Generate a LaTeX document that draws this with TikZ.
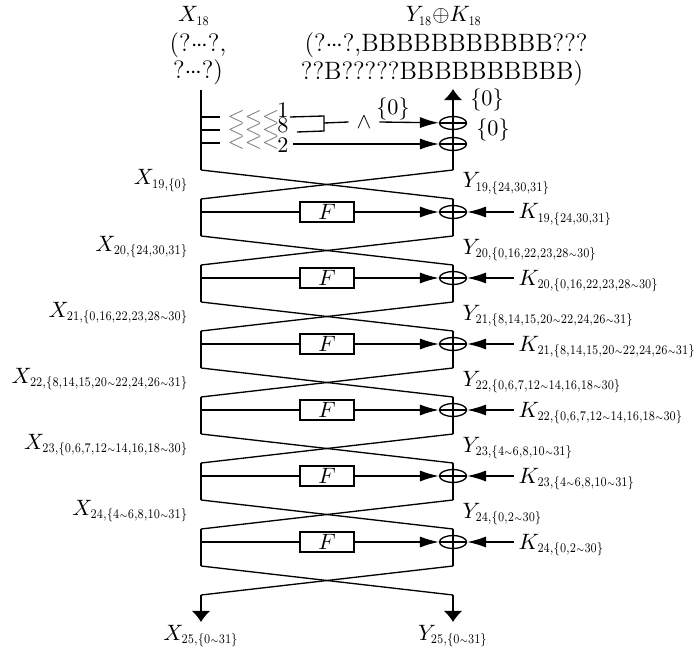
\documentclass[tikz,border=0pt]{standalone}
\usepackage{amsmath,amssymb,graphicx}
\usetikzlibrary{arrows.meta,shapes.geometric}
% narrow subscripts for the state labels
\newcommand\lsub[1]{_{\scalebox{0.7}[0.85]{$\scriptstyle #1$}}}
% small tilde used for bit ranges inside subscripts
\newcommand\rg{\mathord{\scriptscriptstyle\sim}}
% tight ellipsis
\newcommand\tdots{{\cdot}\kern-0.7pt{\cdot}\kern-0.7pt{\cdot}}
\begin{document}
\begin{tikzpicture}[x=0.45pt,y=-0.45pt,line width=0.6pt,
  tiph/.style={-{Latex[length=8.5pt,width=5pt]}},
  tipv/.style={-{Latex[length=5pt,width=8.5pt]}},
  fbox/.style={draw,minimum width=24.3pt,minimum height=9pt,inner sep=0pt},
  xorell/.style={draw,ellipse,minimum width=12.2pt,minimum height=5.8pt,inner sep=0pt},
  xlab/.style={anchor=base east,inner sep=0pt},
  ylab/.style={anchor=base west,inner sep=0pt},
  klab/.style={anchor=base west,inner sep=0pt},
  txt/.style={anchor=base,inner sep=0pt},
  bigtxt/.style={anchor=base,inner sep=0pt,font=\fontsize{11.3}{13}\selectfont},
  rotlab/.style={anchor=west,inner sep=0pt,text=black!55},
  digit/.style={inner sep=0pt},
  setlab/.style={inner sep=0pt,font=\fontsize{9.6}{11}\selectfont},
]
\useasboundingbox (0,0) rectangle (699,652);

% ---- input of the trail --------------------------------------------------
\node[txt] (x18)  at (194,22) {$X\lsub{18}$};
\node[bigtxt] (x18a) at (198,52) {(?$\tdots$?,};
\node[bigtxt] (x18b) at (198,79) {?$\tdots$?)};
\node[txt] (y18)  at (444,22) {$Y\lsub{18}{\oplus}K\lsub{18}$};
\node[bigtxt] (y18a) at (446,52) {(?$\tdots$?,BBBBBBBBBBB???};
\node[bigtxt] (y18b) at (442,80) {??B?????BBBBBBBBBB)};

% ---- skeleton points of the Feistel rounds --------------------------------
\foreach \i in {0,...,6}{
  \coordinate (lt\i) at (201,170+66*\i);
  \coordinate (rt\i) at (453,170+66*\i);
  \coordinate (lm\i) at (201,199+66*\i);
  \coordinate (rm\i) at (453,199+66*\i);
}

% ---- last step of round 18: rotations, AND and the two XORs -----------------
\coordinate (ltop) at (201,90);
\coordinate (rtop) at (453,89);
\draw (ltop) -- (lt0);
\foreach \j/\yy in {1/117,2/130,3/143}{
  \coordinate (tap\j) at (220,\yy);
  \draw (ltop |- tap\j) -- (tap\j);
  \node[rotlab] (rot\j) at (227,\yy) {$<<<$};
}
\node[digit] (d1) at (283,110) {1};
\node[digit] (d2) at (283,125) {8};
\node[digit] (d3) at (283,145) {2};
\coordinate (l1a) at (290,117);
\coordinate (l2a) at (297,132);
\coordinate (brt) at (324,116);
\coordinate (brb) at (324,131);
\coordinate (brm) at (324,123);
\coordinate (l3a) at (293,144);
\draw (l1a) -- (brt) -- (brb) -- (l2a);
\node (andop) at (364,122) {$\wedge$};
\draw (brm) -- (andop.west);
\node[xorell] (xa) at (453,123) {};
\node[xorell] (xb) at (453,144) {};
\draw[tiph] (andop.east) -- (xa);
\node[setlab] (zeroa) at (393,109) {$\{0\}$};
\draw[tiph] (l3a) -- (xb);
\draw (xa.west) -- (xa.east);
\draw (xb.west) -- (xb.east);
\draw[tipv] (rt0) -- (rtop);
\node[setlab] (zerob) at (487,100) {$\{0\}$};
\node[setlab] (zeroc) at (493,130) {$\{0\}$};

% ---- rounds 19 to 24 --------------------------------------------------------
\foreach \i/\n/\r/\sx/\sy in {
  0/1/19/{0}/{24,30,31},
  1/2/20/{24,30,31}/{0,16,22,23,28\rg30},
  2/3/21/{0,16,22,23,28\rg30}/{8,14,15,20\rg22,24,26\rg31},
  3/4/22/{8,14,15,20\rg22,24,26\rg31}/{0,6,7,12\rg14,16,18\rg30},
  4/5/23/{0,6,7,12\rg14,16,18\rg30}/{4\rg6,8,10\rg31},
  5/6/24/{4\rg6,8,10\rg31}/{0,2\rg30}}{
  \draw (lt\i) -- (rm\i);
  \draw (rt\i) -- (lm\i);
  \draw (lm\i) -- (lt\n);
  \draw (rm\i) -- (rt\n);
  \node[fbox] (f\i) at (327,212+66*\i) {$F$};
  \node[xorell] (xo\i) at (453,212+66*\i) {};
  \draw (lm\i |- f\i) -- (f\i);
  \draw[tiph] (f\i) -- (xo\i);
  \draw (xo\i.west) -- (xo\i.east);
  \node[xlab] (xl\i) at (189,185+66*\i) {$X\lsub{\r,\{\sx\}}$};
  \node[ylab] (yl\i) at (462,188+66*\i) {$Y\lsub{\r,\{\sy\}}$};
  \node[klab] (kl\i) at (518,219+66*\i) {$K\lsub{\r,\{\sy\}}$};
  \draw[tiph] (kl\i.west |- xo\i) ++(-2pt,0) -- (xo\i);
}

% ---- final swap and outputs -------------------------------------------------
\draw (lt6) -- (rm6);
\draw (rt6) -- (lm6);
\node[txt] (x25) at (201,640) {$X\lsub{25,\{0\rg31\}}$};
\node[txt] (y25) at (453,640) {$Y\lsub{25,\{0\rg31\}}$};
\coordinate (xe) at (201,622);
\coordinate (ye) at (453,622);
\draw[tipv] (lm6) -- (xe);
\draw[tipv] (rm6) -- (ye);
\end{tikzpicture}
\end{document}
